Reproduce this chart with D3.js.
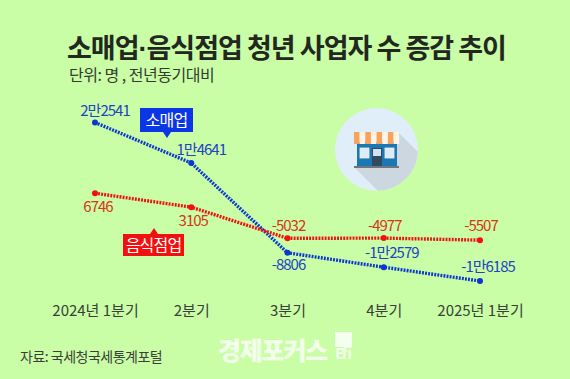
<!DOCTYPE html>
<html>
<head>
<meta charset="utf-8">
<script src="https://cdn.jsdelivr.net/npm/d3@7"></script>
<style>
  html, body { margin: 0; padding: 0; background: #c9fea6; }
  text { font-family: "Noto Sans CJK KR", "Noto Sans", sans-serif; }
</style>
</head>
<body>
<div id="chart"></div>
<script>
//// data
var quarters = ["2024년 1분기", "2분기", "3분기", "4분기", "2025년 1분기"];
var retail = [22541, 14641, -8806, -12579, -16185];
var food = [6746, 3105, -5032, -4977, -5507];
var retailLabels = ["2만2541", "1만4641", "-8806", "-1만2579", "-1만6185"];
var foodLabels = ["6746", "3105", "-5032", "-4977", "-5507"];

//// chart
var width = 570, height = 379;
var blue = "#0a36d2", red = "#f2100f";

var svg = d3.select("#chart")
  .append("svg")
    .attr("width", width)
    .attr("height", height)
    .style("display", "block");

svg.append("rect")
  .attr("width", width)
  .attr("height", height)
  .attr("fill", "#c9fea6");

// title block
var title = svg.append("text")
  .attr("x", 67).attr("y", 58)
  .attr("font-size", 27).attr("font-weight", 700)
  .attr("letter-spacing", -1)
  .attr("fill", "#22281f");
title.append("tspan").text("소매업");
title.append("tspan").style("font-family", '"Liberation Sans", sans-serif').text("·");
title.append("tspan").text("음식점업 청년 사업자 수 증감 추이");

svg.append("text")
  .attr("x", 69).attr("y", 81)
  .attr("font-size", 16)
  .attr("letter-spacing", -0.5)
  .attr("fill", "#333a30")
  .text("단위: 명 , 전년동기대비");

//// scales
var x = d3.scalePoint()
  .domain(quarters)
  .range([95, 480]);

// the picture's axis is bent above 1만4641
var y = d3.scaleLinear()
  .domain([-16185, 14641, 22541])
  .range([281, 163, 122.5]);

//// x axis
var axis = svg.append("g")
  .attr("transform", "translate(0,305)")
  .call(d3.axisBottom(x).tickSize(0).tickPadding(0));
axis.select(".domain").remove();
axis.selectAll("text")
  .attr("font-size", 15)
  .attr("letter-spacing", 0)
  .attr("fill", "#3a3f38")
  .style("font-family", '"Noto Sans CJK KR", sans-serif');

//// lines
var line = d3.line()
  .x(function(d, i) { return x(quarters[i]); })
  .y(function(d) { return y(d); });

function drawSeries(values, labels, color, textColor, offsets) {
  svg.append("path")
    .datum(values)
    .attr("d", line)
    .attr("fill", "none")
    .attr("stroke", color)
    .attr("stroke-width", 3.4)
    .attr("stroke-dasharray", "1.9 1.2");

  svg.selectAll(null)
      .data(values)
    .enter().append("circle")
      .attr("cx", function(d, i) { return x(quarters[i]); })
      .attr("cy", function(d) { return y(d); })
      .attr("r", 3)
      .attr("fill", color);

  svg.selectAll(null)
      .data(values)
    .enter().append("text")
      .attr("x", function(d, i) { return x(quarters[i]) + offsets[i][0]; })
      .attr("y", function(d, i) { return y(d) + offsets[i][1]; })
      .attr("text-anchor", "middle")
      .attr("font-size", 15)
      .attr("letter-spacing", -1)
      .attr("fill", textColor)
      .text(function(d, i) { return labels[i]; });
}

drawSeries(retail, retailLabels, blue, "#2442c4",
  [[10, -7], [10, -8], [1, 17], [8, -9], [8, -9]]);
drawSeries(food, foodLabels, red, "#d8331c",
  [[3, 19], [2, 19], [1, -7], [1, -7], [1, -9]]);

//// series tags
function tag(bx, by, bw, bh, tipX, tipDir, label, color) {
  var tipY = tipDir > 0 ? by + bh : by;
  svg.append("rect")
    .attr("x", bx).attr("y", by)
    .attr("width", bw).attr("height", bh)
    .attr("fill", color);
  svg.append("path")
    .attr("d", d3.line()([[tipX - 4, tipY], [tipX + 4, tipY], [tipX, tipY + 6 * tipDir]]))
    .attr("fill", color);
  svg.append("text")
    .attr("x", bx + bw / 2).attr("y", by + bh / 2 + 5.5)
    .attr("text-anchor", "middle")
    .attr("font-size", 16)
    .attr("letter-spacing", -0.8)
    .attr("fill", "#fff")
    .text(label);
}
tag(140, 108, 53, 24, 167, 1, "소매업", "#0a36e6");
tag(123, 234, 61, 22, 154, -1, "음식점업", "#f0100f");

//// store icon
var icon = svg.append("g");
icon.append("clipPath").attr("id", "disc")
  .append("circle").attr("cx", 376.5).attr("cy", 149.5).attr("r", 41.5);
icon.append("circle").attr("cx", 376.5).attr("cy", 149.5).attr("r", 41.5).attr("fill", "#e0eefa");
icon.append("path")
  .attr("d", "M399,133 L420,154 L420,200 L380,193 L354,167 Z")
  .attr("fill", "#ccd7e0")
  .attr("clip-path", "url(#disc)");
icon.append("rect").attr("x", 357).attr("y", 142).attr("width", 40).attr("height", 24).attr("fill", "#1b78b4");
d3.range(8).forEach(function(i) {
  icon.append("rect")
    .attr("x", 354 + i * 5.65).attr("y", 132)
    .attr("width", 5.65).attr("height", 12)
    .attr("fill", i % 2 ? "#fdf3e6" : "#f9a25c");
});
[360, 385].forEach(function(wx) {
  icon.append("rect").attr("x", wx).attr("y", 148).attr("width", 9).attr("height", 10)
    .attr("fill", "#dcebf8").attr("stroke", "#f2efe6").attr("stroke-width", 0.8);
});
icon.append("rect").attr("x", 372).attr("y", 148).attr("width", 10).attr("height", 19).attr("fill", "#33495f");
icon.append("rect").attr("x", 373).attr("y", 149).attr("width", 8).attr("height", 7).attr("fill", "#cfe2f2");
icon.append("rect").attr("x", 354).attr("y", 166).attr("width", 45).attr("height", 2).attr("fill", "#6d7780");

//// footer
svg.append("text")
  .attr("x", 20).attr("y", 362)
  .attr("font-size", 14)
  .attr("letter-spacing", -0.5)
  .attr("fill", "#3a3f38")
  .text("자료: 국세청국세통계포털");

svg.append("text")
  .attr("x", 218).attr("y", 360)
  .attr("font-size", 25).attr("font-weight", 900)
  .attr("letter-spacing", -1.2)
  .attr("fill", "#fff").attr("fill-opacity", 0.8)
  .text("경제포커스");
svg.append("rect")
  .attr("x", 335).attr("y", 332).attr("width", 17).attr("height", 15)
  .attr("fill", "#fff").attr("fill-opacity", 0.8);
svg.append("text")
  .attr("x", 335).attr("y", 359)
  .attr("font-size", 15).attr("font-weight", 700)
  .attr("textLength", 17)
  .attr("fill", "#fff").attr("fill-opacity", 0.8)
  .text("Efi");
</script>
</body>
</html>
